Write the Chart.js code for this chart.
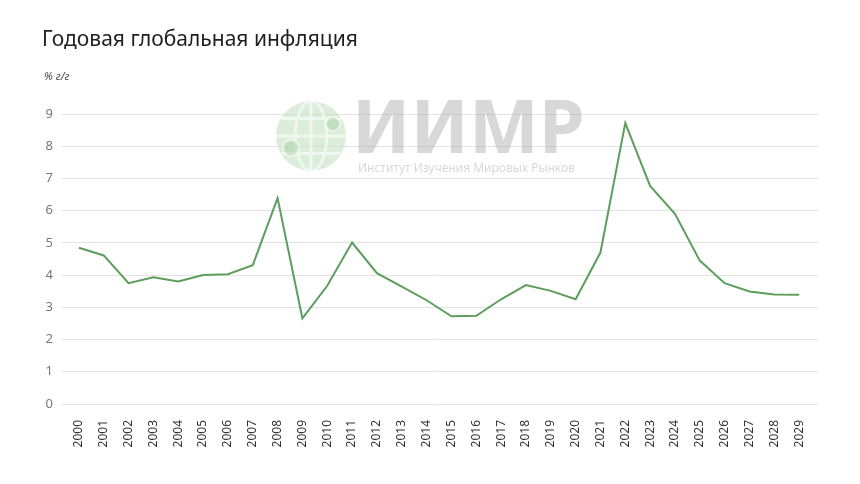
<!DOCTYPE html>
<html>
<head>
<meta charset="utf-8">
<script src="https://cdn.jsdelivr.net/npm/chart.js@4"></script>
<style>
  html, body { margin: 0; padding: 0; background: #fff; }
  #wrap { width: 860px; height: 484px; position: relative; }
</style>
</head>
<body>
<div id="wrap"><canvas id="inflChart" width="860" height="484"></canvas></div>
<script>
// данные графика
const years = ['2000','2001','2002','2003','2004','2005','2006','2007','2008','2009',
               '2010','2011','2012','2013','2014','2015','2016','2017','2018','2019',
               '2020','2021','2022','2023','2024','2025','2026','2027','2028','2029'];
const inflation = [4.85, 4.61, 3.75, 3.93, 3.80, 4.00, 4.03, 4.31, 6.39, 2.66,
                   3.67, 5.01, 4.06, 3.64, 3.22, 2.72, 2.74, 3.25, 3.69, 3.51,
                   3.25, 4.70, 8.72, 6.77, 5.90, 4.45, 3.75, 3.49, 3.40, 3.39];
const yTicks = [0, 1, 2, 3, 4, 5, 6, 7, 8, 9];

const titleText = 'Годовая глобальная инфляция';
const unitText = '% г/г';

// заголовок + водяной знак
const decorPlugin = {
    id: 'decor',
    beforeDraw(chart) {
        const ctx = chart.ctx;
        ctx.save();
        ctx.fillStyle = '#1f1f1f';
        ctx.font = "21px 'Noto Sans', sans-serif";
        ctx.textBaseline = 'alphabetic';
        ctx.fillText(titleText, 42, 46);
        ctx.fillStyle = '#444';
        ctx.font = "italic 11px 'Noto Sans', sans-serif";
        ctx.fillText(unitText, 44, 80);
        ctx.restore();
    },
    afterDatasetsDraw(chart) {
        const ctx = chart.ctx;
        ctx.save();
        ctx.globalAlpha = 0.55;
        // глобус
        const cx = 311, cy = 136, r = 35;
        ctx.fillStyle = '#bfe0bd';
        ctx.beginPath();
        ctx.arc(cx, cy, r, 0, Math.PI * 2);
        ctx.fill();
        ctx.strokeStyle = '#ffffff';
        ctx.lineWidth = 3;
        ctx.beginPath();
        ctx.ellipse(cx, cy, r * 0.45, r, 0, 0, Math.PI * 2);
        ctx.moveTo(cx, cy - r); ctx.lineTo(cx, cy + r);
        ctx.moveTo(cx - r, cy); ctx.lineTo(cx + r, cy);
        ctx.moveTo(cx - r * 0.85, cy - r * 0.5); ctx.lineTo(cx + r * 0.85, cy - r * 0.5);
        ctx.moveTo(cx - r * 0.85, cy + r * 0.5); ctx.lineTo(cx + r * 0.85, cy + r * 0.5);
        ctx.stroke();
        ctx.fillStyle = '#a9d4a6';
        ctx.strokeStyle = '#ffffff';
        ctx.lineWidth = 2;
        [[cx + 22, cy - 12, 7], [cx - 20, cy + 12, 8]].forEach(([x, y, rr]) => {
            ctx.beginPath();
            ctx.arc(x, y, rr, 0, Math.PI * 2);
            ctx.fill();
            ctx.stroke();
        });
        // ИИМР
        ctx.globalAlpha = 0.45;
        ctx.fillStyle = '#a8a8a8';
        ctx.font = "bold 74px 'Noto Sans', sans-serif";
        ctx.textBaseline = 'alphabetic';
        ctx.fillText('ИИМР', 352, 153);
        ctx.font = "12px 'Noto Sans', sans-serif";
        ctx.fillText('Институт Изучения Мировых Рынков', 358, 172);
        ctx.restore();
    }
};

const ctx = document.getElementById('inflChart');
new Chart(ctx, {
    type: 'line',
    data: {
        datasets: [{
            data: inflation.map((v, i) => ({ x: i, y: v })),
            borderColor: '#5d9e5c',
            borderWidth: 2,
            pointRadius: 0,
            tension: 0,
            fill: false
        }]
    },
    options: {
        responsive: false,
        animation: false,
        layout: { padding: { top: 114, right: 42, left: 0, bottom: 0 } },
        plugins: { legend: { display: false }, tooltip: { enabled: false } },
        scales: {
            x: {
                type: 'linear',
                min: -0.72,
                max: 29.76,
                grid: { display: false },
                border: { display: false },
                afterBuildTicks: (scale) => { scale.ticks = years.map((_, i) => ({ value: i })); },
                afterFit: (scale) => { scale.height = 80; },
                ticks: {
                    autoSkip: false,
                    minRotation: 90,
                    maxRotation: 90,
                    padding: 8,
                    color: '#333',
                    font: { family: "'Noto Sans', sans-serif", size: 12 },
                    callback: (v) => years[v]
                }
            },
            y: {
                min: 0,
                max: 9,
                afterBuildTicks: (scale) => { scale.ticks = yTicks.map(v => ({ value: v })); },
                afterFit: (scale) => { scale.width = 61; },
                grid: { color: '#e3e3e3', lineWidth: 1, drawTicks: false },
                border: { display: false },
                ticks: {
                    padding: 8,
                    color: '#777',
                    font: { family: "'Noto Sans', sans-serif", size: 13 }
                }
            }
        }
    },
    plugins: [decorPlugin]
});
</script>
</body>
</html>
